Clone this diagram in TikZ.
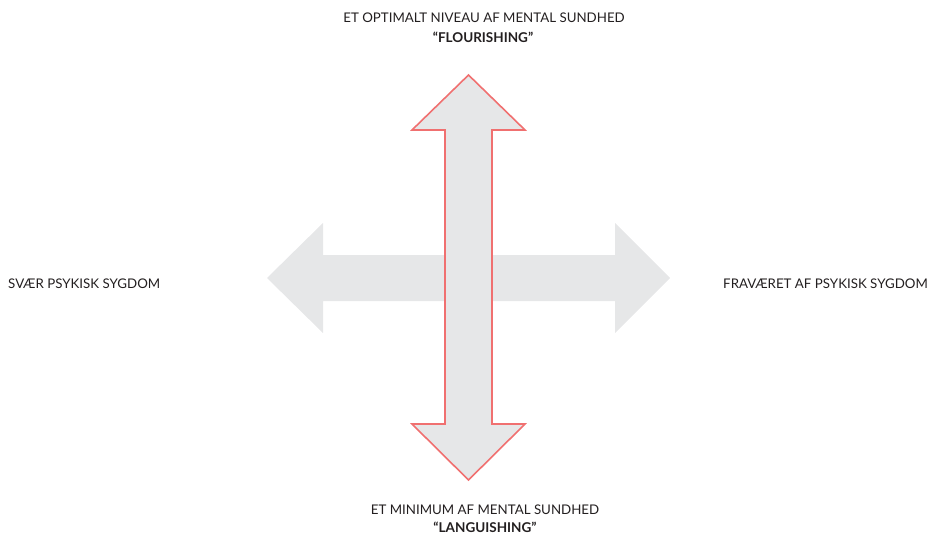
\documentclass[tikz,border=0pt]{standalone}
\usepackage{fontspec}
\setmainfont{Lato}
\definecolor{arrowgray}{HTML}{E6E7E8}
\definecolor{arrowred}{HTML}{F07070}
\definecolor{txt}{HTML}{231F20}
\begin{document}
\begin{tikzpicture}[x=1pt,y=-1pt,
  lbl/.style={inner sep=0pt,text=txt,font=\fontsize{13.3}{15}\selectfont},
  blbl/.style={inner sep=0pt,text=txt,font=\fontsize{13.5}{15}\selectfont\bfseries}]
\useasboundingbox (0,0) rectangle (929,535);
% horizontal double arrow
\fill[arrowgray] (267,278) -- (323,223) -- (323,255) -- (615,255) -- (615,223) -- (670,278)
  -- (615,333) -- (615,301) -- (323,301) -- (323,333) -- cycle;
% vertical double arrow
\filldraw[fill=arrowgray,draw=arrowred,line width=1.6pt,line join=miter]
  (468.5,75) -- (525,130) -- (492,130) -- (492,424) -- (525,424) -- (468.5,480)
  -- (412,424) -- (445,424) -- (445,130) -- (412,130) -- cycle;
\node[lbl] (top1) at (484,18) {ET OPTIMALT NIVEAU AF MENTAL SUNDHED};
\node[blbl] (top2) at (483,37) {“FLOURISHING”};
\node[lbl] (bot1) at (485,510) {ET MINIMUM AF MENTAL SUNDHED};
\node[blbl] (bot2) at (485,527) {“LANGUISHING”};
\node[lbl,anchor=west] (left) at (8,284) {SVÆR PSYKISK SYGDOM};
\node[lbl,anchor=east] (right) at (928,284) {FRAVÆRET AF PSYKISK SYGDOM};
\end{tikzpicture}
\end{document}
